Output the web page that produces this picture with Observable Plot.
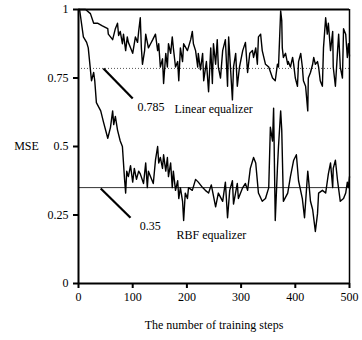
<!DOCTYPE html>
<html>
<head>
<meta charset="utf-8">
<script src="https://cdn.jsdelivr.net/npm/d3@7"></script>
<script src="https://cdn.jsdelivr.net/npm/@observablehq/plot@0.6"></script>
<style>
  html, body { margin: 0; padding: 0; background: #fff; }
  #chart { width: 362px; height: 340px; }
</style>
</head>
<body>
<div id="chart"></div>
<script>
// ---- data ----
const linearSteps = [0,13,22,28,35,44,54,55,63,68,72,74,77,81,83,87,90,92,96,100,105,109,111,114,116,118,122,124,129,133,137,142,146,148,151,155,157,161,164,166,170,173,175,179,183,185,188,192,194,201,207,210,212,216,220,221,225,229,231,236,240,244,247,249,253,256,258,262,266,271,275,277,280,284,286,290,293,297,303,308,312,316,321,323,327,330,332,336,339,345,351,358,363,367,369,373,375,376,378,382,386,387,391,395,397,400,404,406,410,413,415,419,423,424,428,432,434,437,441,443,446,450,452,456,459,461,465,469,470,474,478,480,483,487,489,493,496,498,500];
const linearMSE = [1.0,1.0,0.985,0.95,0.95,0.94,0.93,0.91,0.89,0.93,0.95,0.905,0.92,0.875,0.91,0.85,0.90,0.88,0.86,0.84,0.90,0.88,0.92,0.97,0.86,0.80,0.85,0.91,0.86,0.875,0.89,0.91,0.85,0.875,0.79,0.82,0.73,0.84,0.79,0.875,0.84,0.90,0.86,0.79,0.81,0.74,0.86,0.81,0.875,0.85,0.89,0.92,0.875,0.85,0.79,0.84,0.78,0.84,0.74,0.81,0.70,0.86,0.73,0.875,0.80,0.89,0.79,0.75,0.85,0.89,0.72,0.90,0.80,0.67,0.79,0.84,0.72,0.79,0.85,0.88,0.77,0.84,0.85,0.825,0.86,0.80,0.90,0.91,0.85,0.80,0.79,0.75,0.74,0.80,0.79,0.995,0.96,0.86,0.825,0.84,0.80,0.81,0.79,0.825,0.80,0.75,0.72,0.81,0.84,0.79,0.74,0.72,0.63,0.75,0.77,0.80,0.825,0.80,0.81,0.79,0.74,0.72,0.86,0.97,0.91,0.95,0.85,0.92,0.79,0.72,0.85,0.91,0.79,0.75,0.93,0.91,0.825,0.875,0.83];

const rbfSteps = [0,2,9,15,18,20,24,28,30,33,41,46,54,59,63,65,68,72,77,81,85,87,89,92,96,100,103,107,111,114,120,124,127,129,133,138,142,146,148,151,155,157,161,164,166,170,173,175,179,183,185,188,192,194,197,201,203,210,216,221,229,234,240,245,253,258,266,271,275,279,284,286,293,295,303,308,312,317,323,327,332,339,345,351,354,358,360,363,367,369,373,375,378,386,391,397,402,406,413,417,423,424,428,432,437,441,443,450,456,461,465,469,470,474,478,483,489,493,496,498,500];
const rbfMSE = [1.0,1.0,0.90,0.88,0.86,0.82,0.74,0.77,0.74,0.66,0.63,0.59,0.53,0.57,0.63,0.58,0.61,0.56,0.52,0.50,0.38,0.33,0.41,0.39,0.43,0.37,0.42,0.38,0.41,0.40,0.365,0.44,0.35,0.41,0.39,0.365,0.45,0.50,0.44,0.46,0.42,0.47,0.41,0.46,0.39,0.44,0.35,0.41,0.34,0.375,0.31,0.35,0.30,0.23,0.33,0.31,0.35,0.34,0.38,0.37,0.35,0.34,0.33,0.36,0.28,0.33,0.30,0.37,0.24,0.34,0.375,0.29,0.365,0.31,0.35,0.365,0.34,0.42,0.46,0.44,0.33,0.30,0.31,0.35,0.57,0.52,0.64,0.23,0.42,0.50,0.63,0.56,0.30,0.33,0.39,0.45,0.47,0.375,0.31,0.24,0.41,0.39,0.30,0.27,0.19,0.255,0.33,0.34,0.33,0.40,0.44,0.35,0.42,0.45,0.375,0.30,0.31,0.33,0.37,0.35,0.39];

const xTicks = [0, 100, 200, 300, 400, 500];
const xTickLabels = ["0", "100", "200", "300", "400", "500"];
const yTicks = [0, 0.25, 0.5, 0.75, 1];
const yTickLabels = ["0", "0.25", "0.5", "0.75", "1"];

const linearLevel = 0.785;
const rbfLevel = 0.35;
const linearLabel = "Linear equalizer";
const rbfLabel = "RBF equalizer";
const xLabel = "The number of training steps";
const yLabel = "MSE";

// pointer lines and annotation anchors (data coordinates)
const pointers = [
  {x1: 46, y1: 0.785, x2: 100, y2: 0.675},
  {x1: 41, y1: 0.347, x2: 96, y2: 0.24}
];
const annotations = [
  {x: 109, y: 0.642, text: "0.785"},
  {x: 177, y: 0.638, text: linearLabel},
  {x: 113, y: 0.21, text: "0.35"},
  {x: 181, y: 0.175, text: rbfLabel}
];

const linear = linearSteps.map((s, i) => ({step: s, mse: linearMSE[i]}));
const rbf = rbfSteps.map((s, i) => ({step: s, mse: rbfMSE[i]}));

const font = "'Liberation Serif', 'Times New Roman', serif";

const chart = Plot.plot({
  width: 362,
  height: 340,
  marginLeft: 78,
  marginRight: 13,
  marginTop: 9,
  marginBottom: 57,
  style: {fontFamily: font, fontSize: "12px", color: "#000", background: "#fff"},
  x: {domain: [0, 500]},
  y: {domain: [0, 1]},
  marks: [
    Plot.ruleY([linearLevel], {stroke: "#555", strokeWidth: 1, strokeDasharray: "1,2"}),
    Plot.ruleY([rbfLevel], {stroke: "#333", strokeWidth: 1}),
    Plot.line(linear, {x: "step", y: "mse", stroke: "#000", strokeWidth: 1.4}),
    Plot.line(rbf, {x: "step", y: "mse", stroke: "#000", strokeWidth: 1.4}),
    Plot.link(pointers, {x1: "x1", y1: "y1", x2: "x2", y2: "y2", stroke: "#000", strokeWidth: 2.2}),
    Plot.text(annotations, {x: "x", y: "y", text: "text", textAnchor: "start", fill: "#000", fontSize: 12}),
    Plot.ruleY([1], {stroke: "#000", strokeWidth: 2}),
    Plot.ruleX([500], {stroke: "#000", strokeWidth: 1.5}),
    Plot.ruleX([0], {stroke: "#000", strokeWidth: 2}),
    Plot.ruleY([0], {stroke: "#000", strokeWidth: 2}),
    Plot.axisX({ticks: xTicks, tickFormat: (d) => xTickLabels[xTicks.indexOf(d)], tickSize: 5, tickPadding: 4, strokeWidth: 2, label: null, fontSize: 12}),
    Plot.axisY({ticks: yTicks, tickFormat: (d) => yTickLabels[yTicks.indexOf(d)], tickSize: 5, tickPadding: 5, strokeWidth: 2, label: null, fontSize: 12}),
    Plot.text([yLabel], {frameAnchor: "left", y: [0.5], text: d => d, dx: -52, textAnchor: "middle", fontSize: 12}),
    Plot.text([xLabel], {frameAnchor: "bottom", x: [250], text: d => d, dy: 45, textAnchor: "middle", fontSize: 12})
  ]
});
document.getElementById("chart").appendChild(chart);
</script>
</body>
</html>
